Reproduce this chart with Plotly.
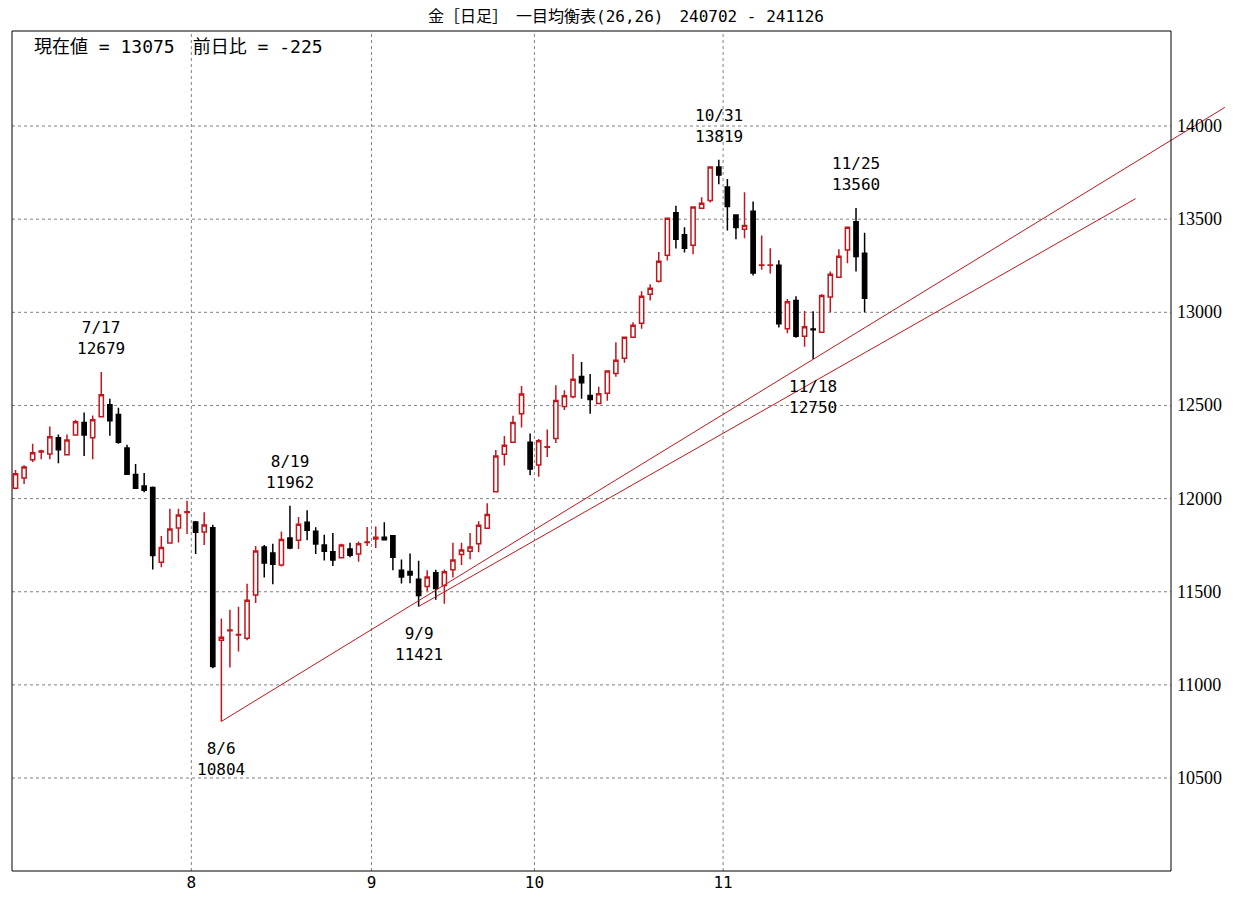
import plotly.graph_objects as go

dates = (["7/%d" % d for d in [2,3,4,5,8,9,10,11,12,16,17,18,19,22,23,24,25,26,29,30,31]] +
         ["8/%d" % d for d in [1,2,5,6,7,8,9,13,14,15,16,19,20,21,22,23,26,27,28,29,30]] +
         ["9/%d" % d for d in [2,3,4,5,6,9,10,11,12,13,17,18,19,20,24,25,26,27,30]] +
         ["10/%d" % d for d in [1,2,3,4,7,8,9,10,11,15,16,17,18,21,22,23,24,25,28,29,30,31]] +
         ["11/%d" % d for d in [1,5,6,7,8,11,12,13,14,15,18,19,20,21,22,25,26]])

opens = [12056,12111,12208,12250,12240,12326,12235,12342,12409,12326,
         12439,12504,12452,12272,12129,12068,12059,11658,11762,11842,
         11926,11875,11821,11844,11240,11290,11268,11251,11482,11740,
         11708,11643,11788,11777,11873,11825,11751,11715,11682,11730,
         11703,11765,11783,11792,11800,11615,11609,11567,11528,11602,
         11533,11618,11700,11717,11758,11841,12037,12238,12302,12456,
         12302,12180,12275,12323,12495,12547,12656,12554,12511,12565,
         12672,12753,12866,12941,13097,13167,13306,13534,13416,13360,
         13559,13600,13780,13672,13522,13446,13543,13252,13252,13253,
         12912,13063,12871,12910,12893,13082,13188,13335,13486,13317]
highs = [12154,12179,12294,12262,12387,12344,12344,12423,12462,12446,
         12679,12536,12487,12289,12186,12138,12065,11799,11946,11946,
         11989,11880,11927,11860,11357,11403,11419,11543,11746,11751,
         11758,11823,11962,11901,11938,11846,11806,11816,11758,11763,
         11770,11848,11850,11873,11804,11673,11705,11666,11615,11618,
         11620,11763,11763,11816,11878,11975,12261,12336,12445,12604,
         12350,12320,12371,12609,12582,12776,12733,12669,12600,12685,
         12839,12866,12946,13113,13151,13324,13509,13572,13457,13565,
         13618,13780,13819,13715,13522,13645,13595,13412,13344,13280,
         13072,13086,13007,13005,13097,13219,13339,13457,13560,13427]
lows = [12050,12079,12197,12211,12211,12190,12231,12340,12228,12211,
        12437,12337,12294,12128,12053,12034,11620,11631,11760,11765,
        11810,11703,11751,11090,10804,11093,11179,11240,11439,11577,
        11540,11636,11728,11730,11777,11703,11668,11638,11680,11685,
        11661,11745,11735,11779,11616,11544,11546,11421,11502,11457,
        11436,11576,11643,11675,11712,11841,12037,12178,12302,12382,
        12125,12117,12223,12299,12475,12538,12536,12455,12511,12525,
        12654,12729,12866,12912,13063,13160,13278,13342,13321,13312,
        13554,13590,13688,13439,13392,13398,13197,13228,13208,12918,
        12887,12864,12815,12750,12893,13000,13188,13263,13219,13000]
closes = [12133,12170,12246,12255,12332,12262,12315,12412,12342,12423,
          12557,12418,12303,12131,12056,12045,11695,11738,11837,11912,
          11930,11819,11858,11099,11256,11294,11270,11455,11719,11654,
          11647,11781,11735,11862,11830,11756,11717,11670,11751,11696,
          11758,11767,11793,11779,11685,11579,11590,11480,11579,11518,
          11608,11670,11724,11740,11857,11915,12228,12286,12408,12562,
          12159,12311,12278,12527,12552,12640,12622,12532,12563,12685,
          12742,12866,12930,13086,13129,13274,13505,13392,13344,13565,
          13586,13780,13737,13568,13455,13466,13211,13254,13254,12939,
          13057,12871,12923,12907,13090,13204,13301,13457,13300,13075]

month_ticks = [20.5, 41.5, 60.5, 82.5]
month_labels = ["8", "9", "10", "11"]
y_levels = [10500, 11000, 11500, 12000, 12500, 13000, 13500, 14000]

# trendlines: (start index, start value, end index, end value)
trend_upper = (24, 10804, 141.0, 14100)
trend_lower = (47, 11421, 130.6, 13610)

# peak / trough labels: (index, date label, value, above?)
marks = [(10, "7/17", 12679, True), (24, "8/6", 10804, False), (32, "8/19", 11962, True),
         (47, "9/9", 11421, False), (82, "10/31", 13819, True), (93, "11/18", 12750, False),
         (98, "11/25", 13560, True)]

RED = "#c0171d"
FONT = "DejaVu Sans Mono, Noto Sans CJK JP"
idx = list(range(len(dates)))

fig = go.Figure()
fig.add_trace(go.Candlestick(
    x=idx, open=opens, high=highs, low=lows, close=closes,
    increasing=dict(line=dict(color=RED, width=1.5), fillcolor="white"),
    decreasing=dict(line=dict(color="black", width=1.5), fillcolor="black"),
    whiskerwidth=0, hoverinfo="skip", showlegend=False))

frame_r = (1171 - 12) / 1228.0
GRID = dict(color="#808080", width=1, dash="3px,3px")
shapes = []
for v in y_levels:
    shapes.append(dict(type="line", xref="paper", yref="y", x0=0, x1=frame_r, y0=v, y1=v,
                       line=GRID, layer="below"))
for t in month_ticks:
    shapes.append(dict(type="line", xref="x", yref="paper", x0=t, x1=t, y0=0, y1=1,
                       line=GRID, layer="below"))
for (a, va, b, vb) in [trend_upper, trend_lower]:
    shapes.append(dict(type="line", xref="x", yref="y", x0=a, y0=va, x1=b, y1=vb,
                       line=dict(color=RED, width=1)))
shapes.append(dict(type="rect", xref="paper", yref="paper", x0=0, x1=frame_r, y0=0, y1=1,
                   line=dict(color="black", width=1)))

ann = []
for v in y_levels:
    ann.append(dict(x=frame_r, xref="paper", y=v, yref="y", text=str(v), showarrow=False,
                    xanchor="left", xshift=4, font=dict(size=18, family="Liberation Serif", color="black")))
for (i, d, v, above) in marks:
    ann.append(dict(x=i, y=v, xref="x", yref="y", text=f"{d}<br>{v}", showarrow=False,
                    yanchor="bottom" if above else "top", yshift=12 if above else -16,
                    font=dict(size=16, family=FONT, color="black")))
ann.append(dict(x=0.5, xref="paper", y=1, yref="paper", yanchor="bottom", yshift=3,
                text="金［日足］　一目均衡表(26,26)　240702 - 241126", showarrow=False,
                font=dict(size=16, family=FONT, color="black"), xanchor="center"))
ann.append(dict(x=0, xref="paper", xshift=20, y=1, yref="paper", yanchor="top", yshift=-3,
                text="現在値 = %d　前日比 = %d" % (closes[-1], closes[-1] - closes[-2]),
                showarrow=False, xanchor="left", font=dict(size=18, family=FONT, color="black")))

fig.update_layout(
    width=1254, height=902, margin=dict(l=4, r=22, t=23, b=39),
    plot_bgcolor="white", paper_bgcolor="white", shapes=shapes, annotations=ann,
    xaxis=dict(range=[-0.41, 142.77], showgrid=False, zeroline=False, showline=False,
               tickvals=month_ticks, ticktext=month_labels, ticks="",
               tickfont=dict(size=16, family=FONT, color="black"), rangeslider=dict(visible=False)),
    yaxis=dict(range=[10001, 14510], showgrid=False, zeroline=False, showticklabels=False),
)
fig.write_html("out.html")
